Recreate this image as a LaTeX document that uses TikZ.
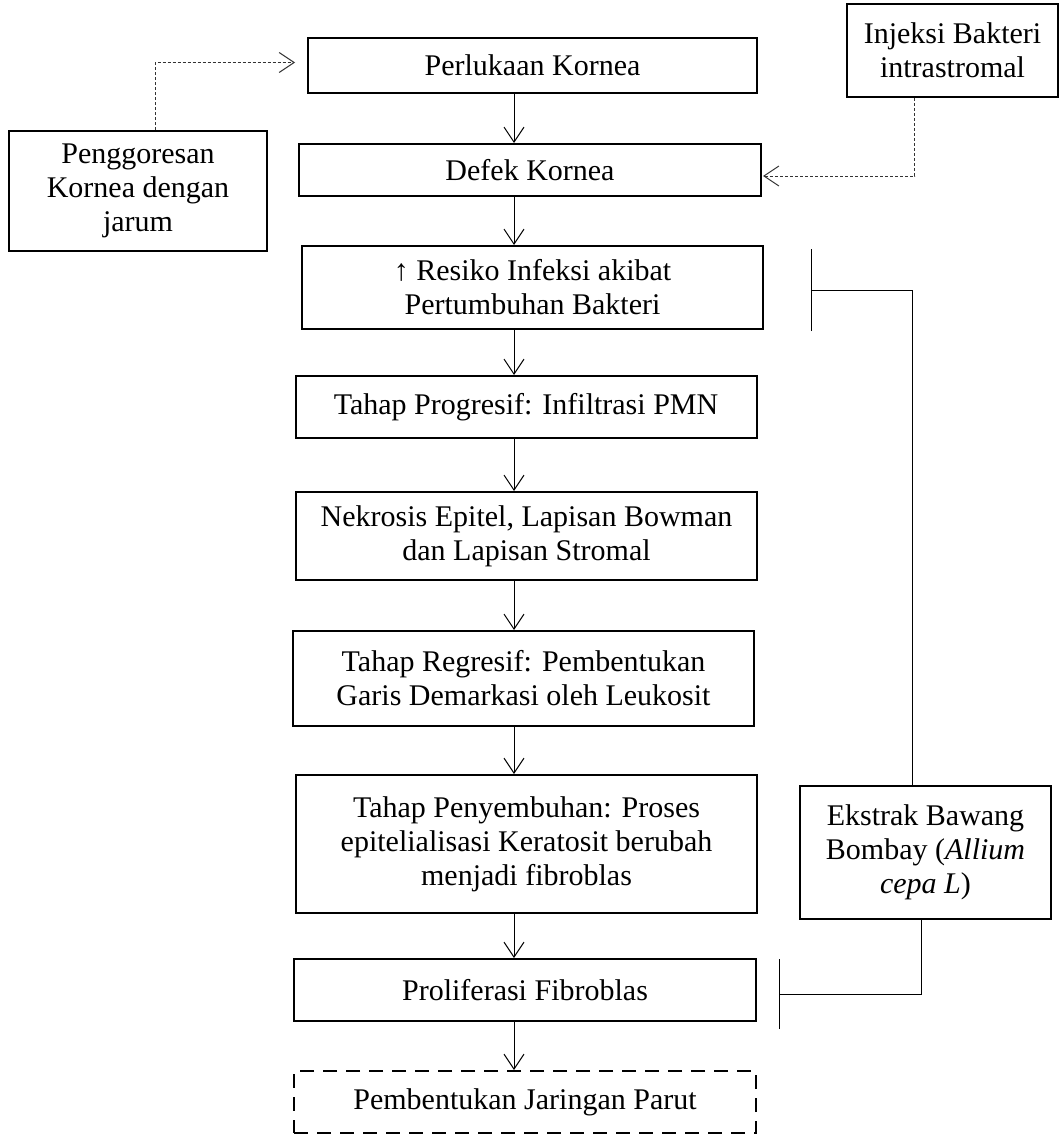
\documentclass[tikz,border=0pt]{standalone}
\usepackage{fontspec}
\setmainfont{Liberation Serif}
\usepackage{xcolor}
\usepackage{tikz}
\usetikzlibrary{arrows.meta,positioning}
\colorlet{BoxColor}{black}
\colorlet{HintColor}{black!80}
\newlength{\stagewidth}
\setlength{\stagewidth}{230.5pt}

\begin{document}
\begin{tikzpicture}[
      x=0.5pt, y=-0.5pt,
      font=\fontsize{15}{17}\selectfont,
      every node/.style={align=center, inner sep=2pt},
      stage/.style={draw=BoxColor, line width=1pt, minimum width=\stagewidth},
      sidebox/.style={draw=BoxColor, line width=1pt},
      endstage/.style={stage, dash pattern=on 7pt off 4.5pt},
      flow/.style={line width=0.5pt, -{Straight Barb[length=7.5pt,width=10pt]}},
      hint/.style={draw=HintColor, line width=0.5pt, dash pattern=on 1.5pt off 1pt,
        -{Straight Barb[length=7.5pt,width=10pt]}},
      inhibit/.style={line width=0.5pt, -{Bar[width=#1]}},
  ]
  \useasboundingbox (0,0) rectangle (1061,1135);
  % ┌────────────┐
  % │ Alur utama │
  % └────────────┘
  \node[stage, minimum width=224.5pt, minimum height=27.5pt] (perlukaan) at (532.5,65.5) {Perlukaan Kornea};
  \node[stage, minimum width=231pt, minimum height=26pt] (defek) at (530,170) {Defek Kornea};
  \node[stage, minimum height=41.5pt] (resiko) at (532.5,287.5) {↑ Resiko Infeksi akibat\\Pertumbuhan Bakteri};
  \node[stage, minimum height=31pt] (progresif) at (526,407) {Tahap Progresif: Infiltrasi PMN};
  \node[stage, minimum height=44pt] (nekrosis) at (526.5,536) {Nekrosis Epitel, Lapisan Bowman\\dan Lapisan Stromal};
  \node[stage, minimum height=47.5pt] (regresif) at (523.5,678.5) {Tahap Regresif: Pembentukan\\Garis Demarkasi oleh Leukosit};
  \node[stage, minimum height=69pt] (sembuh) at (526.5,844) {Tahap Penyembuhan: Proses\\epitelialisasi Keratosit berubah\\menjadi fibroblas};
  \node[stage, minimum width=231pt, minimum height=31pt] (proliferasi) at (525,990) {Proliferasi Fibroblas};
  \node[endstage, minimum width=231pt, minimum height=31pt] (parut) at (525,1102) {Pembentukan Jaringan Parut};

  % ┌────────────┐
  % │ Kotak luar │
  % └────────────┘
  \node[sidebox, minimum width=129pt, minimum height=60pt] (gores) at (138,191) {Penggoresan\\Kornea dengan\\jarum};
  \node[sidebox, minimum width=105.5pt, minimum height=46.5pt] (injeksi) at (952.5,50.5) {Injeksi Bakteri\\intrastromal};
  \node[sidebox, minimum width=125.5pt, minimum height=66.5pt] (ekstrak) at (925.5,852.5) {Ekstrak Bawang\\Bombay (\textit{Allium}\\\textit{cepa L})};

  % ┌──────────────────┐
  % │ Garis penghubung │
  % └──────────────────┘
  \coordinate (axis) at (514,0);
  \draw[flow] (perlukaan.south -| axis) -- (defek.north -| axis);
  \draw[flow] (defek.south -| axis) -- (resiko.north -| axis);
  \draw[flow] (resiko.south -| axis) -- (progresif.north -| axis);
  \draw[flow] (progresif.south -| axis) -- (nekrosis.north -| axis);
  \draw[flow] (nekrosis.south -| axis) -- (regresif.north -| axis);
  \draw[flow] (regresif.south -| axis) -- (sembuh.north -| axis);
  \draw[flow] (sembuh.south -| axis) -- (proliferasi.north -| axis);
  \draw[flow] (proliferasi.south -| axis) -- (parut.north -| axis);

  \draw[hint] ([xshift=8.5pt]gores.north) |- ([xshift=-6pt,yshift=1.5pt]perlukaan.west);
  \draw[hint] ([xshift=-19pt]injeksi.south) |- ([xshift=0.5pt,yshift=-3pt]defek.east);

  \draw[inhibit=41pt] ([xshift=-6.75pt]ekstrak.north) |- ([xshift=23.5pt,yshift=-1.25pt]resiko.east);
  \draw[inhibit=35pt] ([xshift=-2.25pt]ekstrak.south) |- ([xshift=11pt,yshift=-2pt]proliferasi.east);
\end{tikzpicture}
\end{document}
